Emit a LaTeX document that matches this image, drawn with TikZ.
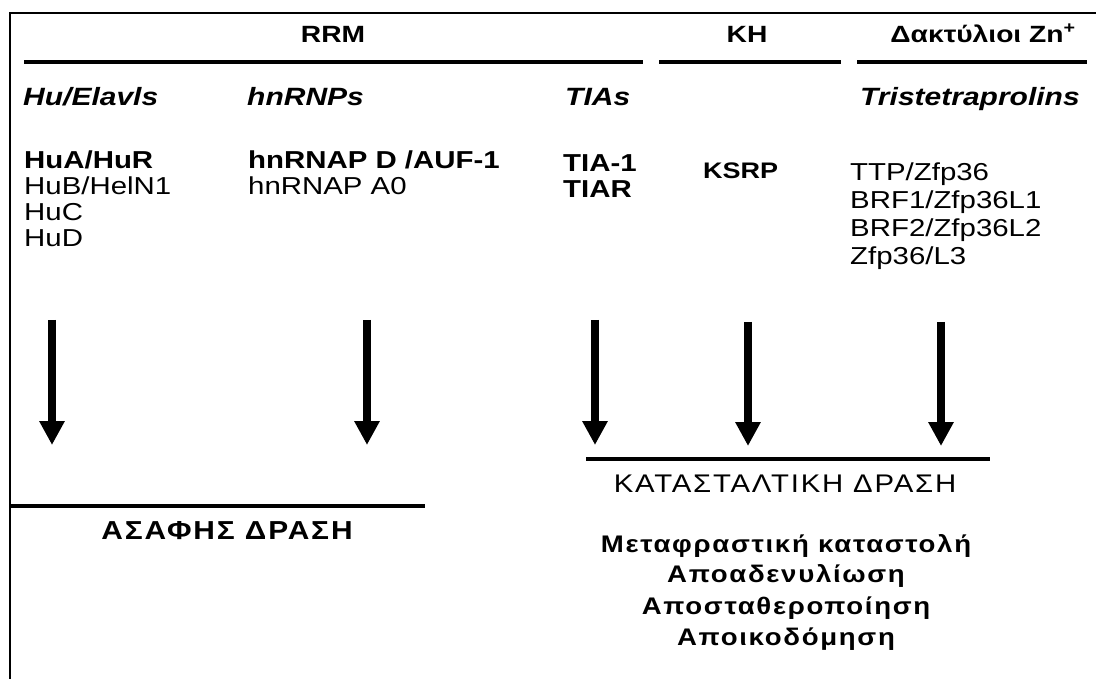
\documentclass[tikz,border=0pt]{standalone}
\usepackage{fontspec}
\setmainfont{Liberation Sans}[FakeStretch=1.2]
\newfontfamily\grk{Liberation Sans}[FakeStretch=1.15,LetterSpace=7]
\usetikzlibrary{arrows.meta}
\begin{document}
\begin{tikzpicture}[x=1pt,y=-1pt,
  border/.style={line width=2.5pt,line join=miter},
  hrule/.style={line width=4.5pt},
  hdr/.style={font=\fontsize{23.5}{27}\selectfont\bfseries,anchor=base,inner sep=0},
  fam/.style={font=\fontsize{25}{29}\selectfont\bfseries\itshape,anchor=base west,inner sep=0},
  item/.style={font=\fontsize{24.5}{28}\selectfont,anchor=base west,inner sep=0},
  itemb/.style={font=\fontsize{24.5}{28}\selectfont\bfseries,anchor=base west,inner sep=0},
  act/.style={font=\fontsize{25.5}{29}\grk,anchor=base,inner sep=0},
  actb/.style={font=\fontsize{24}{28}\grk\bfseries,anchor=base,inner sep=0},
  downarrow/.style={line width=7.5pt,-{Triangle[width=24pt,length=24pt]}},
]
\fill[white] (0,0) rectangle (1096,679);
\useasboundingbox (0,0) rectangle (1096,679);

% frame
\draw[border] (10,679) -- (10,13) -- (1096,13);

% headers
\node[hdr] (rrm) at (333,43) {RRM};
\node[hdr] (kh) at (747,43) {KH};
\node[hdr] (zn) at (983,43) {Δακτύλιοι Zn\textsuperscript{+}};
\draw[hrule] (24,62) -- (643,62);
\draw[hrule] (659,62) -- (841,62);
\draw[hrule] (857,62) -- (1087,62);

% families
\node[fam] (hu) at (23,106) {Hu/Elavls};
\node[fam] (hn) at (247,106) {hnRNPs};
\node[fam] (tias) at (565,106) {TIAs};
\node[fam] (ttps) at (860,106) {Tristetraprolins};

% members
\node[itemb] (hua) at (24,169) {HuA/HuR};
\node[item] (hub) at (24,195) {HuB/HelN1};
\node[item] (huc) at (24,221) {HuC};
\node[item] (hud) at (24,247) {HuD};

\node[itemb] (hnd) at (248,169) {hnRNAP D /AUF-1};
\node[item] (hna) at (248,195) {hnRNAP A0};

\node[itemb] (tia1) at (563,172) {TIA-1};
\node[itemb] (tiar) at (563,198) {TIAR};

\node[itemb, font=\fontsize{22.5}{26}\selectfont\bfseries] (ksrp) at (703,179) {KSRP};

\node[item] (ttp) at (850,181) {TTP/Zfp36};
\node[item] (brf1) at (850,209) {BRF1/Zfp36L1};
\node[item] (brf2) at (850,237) {BRF2/Zfp36L2};
\node[item] (zl3) at (850,265) {Zfp36/L3};

% arrows
\coordinate (a1s) at (52,320);  \coordinate (a1e) at (52,445);
\coordinate (a2s) at (367,320); \coordinate (a2e) at (367,445);
\coordinate (a3s) at (595,320); \coordinate (a3e) at (595,445);
\coordinate (a4s) at (748,322); \coordinate (a4e) at (748,446);
\coordinate (a5s) at (941,322); \coordinate (a5e) at (941,446);
\draw[downarrow] (a1s) -- (a1e);
\draw[downarrow] (a2s) -- (a2e);
\draw[downarrow] (a3s) -- (a3e);
\draw[downarrow] (a4s) -- (a4e);
\draw[downarrow] (a5s) -- (a5e);

% outcome lines
\draw[hrule,line width=4pt] (10,506) -- (425,506);
\draw[hrule,line width=4pt] (586,459) -- (990,459);

\node[actb, font=\fontsize{26}{30}\grk\bfseries] (asafis) at (227,539) {ΑΣΑΦΗΣ ΔΡΑΣΗ};
\node[act] (katast) at (785,492) {ΚΑΤΑΣΤΑΛΤΙΚΗ ΔΡΑΣΗ};
\node[actb] (m1) at (786,552) {Μεταφραστική καταστολή};
\node[actb] (m2) at (786,582) {Αποαδενυλίωση};
\node[actb] (m3) at (786,614) {Αποσταθεροποίηση};
\node[actb] (m4) at (786,645) {Αποικοδόμηση};
\end{tikzpicture}
\end{document}
